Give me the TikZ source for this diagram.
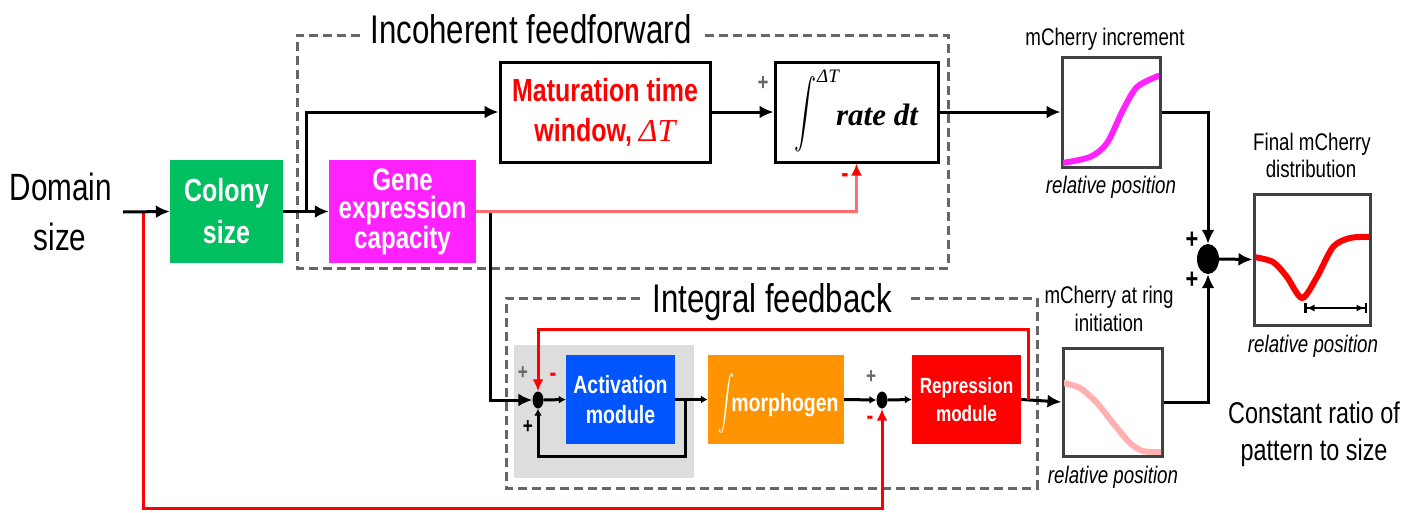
\documentclass[tikz,border=0pt]{standalone}
\usepackage{graphicx}
\usepackage{fontspec}
\setmainfont{Liberation Sans}[FakeStretch=0.78]
\newfontfamily\serifr{Liberation Serif}
\usetikzlibrary{arrows.meta,calc,shapes.geometric}
\newcommand\fsz[2]{\fontsize{#1}{#2}\selectfont}
\definecolor{cgreen}{RGB}{0,191,96}
\definecolor{cmag}{RGB}{255,34,255}
\definecolor{cblue}{RGB}{0,85,255}
\definecolor{corange}{RGB}{255,148,0}
\definecolor{cred}{RGB}{255,0,0}
\definecolor{cpink}{RGB}{255,176,176}
\definecolor{cbg}{RGB}{221,221,221}
\definecolor{cline}{RGB}{255,110,110}
\tikzset{
 fillbox/.style={draw=none, inner sep=0pt, align=center, text=white},
 wbox/.style={draw=black, line width=3pt, fill=white, inner sep=0pt},
 plotbox/.style={draw=black!75, line width=3pt, inner sep=0pt},
 conn/.style={line width=3pt, draw=black},
 arr/.style={conn, -{Latex[length=14pt,width=13pt]}},
 sarr/.style={conn, -{Latex[length=7pt,width=8pt]}},
 rarr/.style={line width=3pt, draw=cred, -{Latex[length=12pt,width=11pt,color=cred]}},
 dashbox/.style={draw=black!60, line width=3pt, dash pattern=on 9pt off 5pt},
 sumnode/.style={ellipse, fill=black, inner sep=0pt},
 lbl/.style={inner sep=0pt, anchor=base},
 sign/.style={inner sep=0pt, font=\bfseries\fsz{28}{28}},
 curve/.style={line width=6pt, line cap=round},
}
\begin{document}
\begin{tikzpicture}[x=1pt,y=-1pt]
\useasboundingbox (0,0) rectangle (1408,512);
% background of activation loop
\fill[cbg] (514,345) rectangle (694,478);
% dashed group boxes
\draw[dashbox] (360,35) -- (297,35) -- (297,268) -- (948,268) -- (948,35) -- (702,35);
\draw[dashbox] (640,298) -- (506,298) -- (506,488) -- (1037,488) -- (1037,298) -- (910,298);
\node[lbl, font=\fsz{40}{40}] (tIFF) at (531,43) {Incoherent feedforward};
\node[lbl, font=\fsz{40}{40}] (tIF) at (772,312) {Integral feedback};
% Domain size
\node[lbl, font=\fsz{38}{38}] (dom1) at (61,200) {Domain};
\node[lbl, font=\fsz{38}{38}] (dom2) at (60,250) {size};
% boxes
\node[fillbox, fill=cgreen, minimum width=113pt, minimum height=103pt, font=\bfseries\fsz{32}{42}] (colony) at (226.5,211.5) {Colony\\size};
\node[fillbox, fill=cmag, minimum width=147pt, minimum height=103pt, font=\bfseries\fsz{31}{28}] (gene) at (402.5,211.5) {Gene\\expression\\capacity};
\node[wbox, minimum width=210pt, minimum height=100pt, align=center, text=cred, font=\bfseries\fsz{32}{40}] (mat) at (605,112) {Maturation time\\window, {\serifr\itshape\mdseries ΔT}};
\node[wbox, minimum width=163pt, minimum height=100pt] (int) at (856.5,112) {};
\node[inner sep=0pt] (intsign) at (805,114) {\scalebox{2.2}[3.4]{$\displaystyle\int$}};
\node[inner sep=0pt, font=\serifr\itshape\fsz{19}{19}] (dT) at (828,76) {ΔT};
\node[lbl, font=\serifr\itshape\bfseries\fsz{31}{31}] (rate) at (877,125) {rate dt};
\node[fillbox, fill=cblue, minimum width=109pt, minimum height=89pt, font=\bfseries\fsz{25}{30}] (act) at (620.5,399.5) {Activation\\module};
\node[fillbox, fill=corange, minimum width=136pt, minimum height=89pt] (morph) at (776,399.5) {};
\node[inner sep=0pt, text=white] (msign) at (726,403) {\scalebox{1.6}[2.7]{$\displaystyle\int$}};
\node[lbl, text=white, font=\bfseries\fsz{25}{25}] (mtext) at (785,411) {morphogen};
\node[fillbox, fill=cred, minimum width=109pt, minimum height=89pt, font=\bfseries\fsz{22}{28}] (rep) at (966.5,399.5) {Repression\\module};
% sum nodes
\node[sumnode, minimum width=22pt, minimum height=30pt] (sum) at (1208,259) {};
\node[sumnode, minimum width=11pt, minimum height=17pt] (s1) at (538,400) {};
\node[sumnode, minimum width=11pt, minimum height=17pt] (s2) at (882,400) {};
% plot boxes
\node[plotbox, minimum width=98pt, minimum height=110pt] (inc) at (1111,112) {};
\node[plotbox, minimum width=99pt, minimum height=108pt] (ring) at (1112.5,402) {};
\node[plotbox, minimum width=116pt, minimum height=131pt] (fin) at (1312,259.5) {};
% curves
\begin{scope}
\clip (1063,59) rectangle (1159,165);
\draw[curve, cmag] plot[smooth] coordinates {(1062,163) (1090,157) (1107,143) (1123,110) (1137,87) (1158,76)};
\end{scope}
\begin{scope}
\clip (1064,350) rectangle (1161,454);
\draw[curve, cpink] plot[smooth] coordinates {(1063,383) (1080,388) (1097,403) (1113,423) (1130,443) (1143,451) (1162,452)};
\end{scope}
\begin{scope}
\clip (1255,196) rectangle (1369,323);
\draw[curve, cred] plot[smooth] coordinates {(1254,257) (1273,262) (1287,277) (1302,298) (1317,277) (1333,247) (1350,238) (1370,237)};
\end{scope}
\coordinate (fa) at (1304,308);
\coordinate (fb) at (1367,308);
\draw[line width=2.5pt, {Bar[width=10pt]Latex[length=8pt,width=7pt]}-{Latex[length=8pt,width=7pt]Bar[width=10pt]}] (fa) -- (fb);
% plot labels
\node[lbl, font=\fsz{24}{24}] (linc) at (1105,45) {mCherry increment};
\node[lbl, font=\itshape\fsz{24}{24}] (rinc) at (1111,193) {relative position};
\node[lbl, font=\fsz{24}{24}] (lring1) at (1109,303) {mCherry at ring};
\node[lbl, font=\fsz{24}{24}] (lring2) at (1109,331) {initiation};
\node[lbl, font=\itshape\fsz{24}{24}] (rring) at (1113,483) {relative position};
\node[lbl, font=\fsz{24}{24}] (lfin1) at (1312,150) {Final mCherry};
\node[lbl, font=\fsz{24}{24}] (lfin2) at (1311,177) {distribution};
\node[lbl, font=\itshape\fsz{24}{24}] (rfin) at (1313,352) {relative position};
\node[lbl, font=\fsz{30}{30}] (cr1) at (1314,423) {Constant ratio of};
\node[lbl, font=\fsz{30}{30}] (cr2) at (1314,460) {pattern to size};
% coordinates
\coordinate (dstart) at (123,212);
\coordinate (rb0) at (143,212);
\coordinate (rb1) at (143,508);
\coordinate (br1) at (306,212);
\coordinate (gdown) at (490,212);
\coordinate (lp) at (685,399.5);
\coordinate (lpb) at (685,456);
\coordinate (rl) at (1028,399.5);
\coordinate (rt1) at (1028,329);
\coordinate (rt2) at (538,329);
% red long feedback
\draw[rarr] (rb0) -- (rb1) -| (s2.south);
% connectors
\draw[arr] (dstart) -- (colony.west);
\draw[arr] (colony.east) -- (gene.west);
\draw[arr] (br1) |- (mat.west);
\draw[arr] (mat.east) -- (int.west);
\draw[arr] (gdown) |- (s1.west);
\draw[line width=3pt, draw=cline, -{Latex[length=12pt,width=11pt,color=cred]}] (gene.east) -| (int.south);
\draw[arr] (int.east) -- (inc.west);
\draw[arr] (inc.east) -| (sum.north);
\draw[arr] (ring.east) -| (sum.south);
\draw[arr] (sum.east) -- (fin.west);
\draw[sarr] (s1.east) -- (act.west);
\draw[sarr] (act.east) -- (morph.west);
\draw[sarr] (lp) -- (lpb) -| (s1.south);
\draw[sarr] (morph.east) -- (s2.west);
\draw[sarr] (s2.east) -- (rep.west);
\draw[arr] (rep.east) -- (ring.west);
\draw[rarr] (rl) -- (rt1) -- (rt2) -- (s1.north);
% signs
\node[sign] (p1) at (1192,240) {+};
\node[sign] (p2) at (1192,280) {+};
\node[sign, text=black!60, font=\bfseries\fsz{24}{24}] (p3) at (763,83) {+};
\node[sign, text=cred, font=\bfseries\fsz{28}{28}] (m1) at (845,178) {-};
\node[sign, text=black!60, font=\bfseries\fsz{22}{22}] (p4) at (523,373) {+};
\node[sign, text=black, font=\bfseries\fsz{22}{22}] (p5) at (528,427) {+};
\node[sign, text=cred, font=\bfseries\fsz{26}{26}] (m2) at (553,377) {-};
\node[sign, text=black!60, font=\bfseries\fsz{22}{22}] (p6) at (871,377) {+};
\node[sign, text=cred, font=\bfseries\fsz{26}{26}] (m3) at (870,420) {-};
\end{tikzpicture}
\end{document}
